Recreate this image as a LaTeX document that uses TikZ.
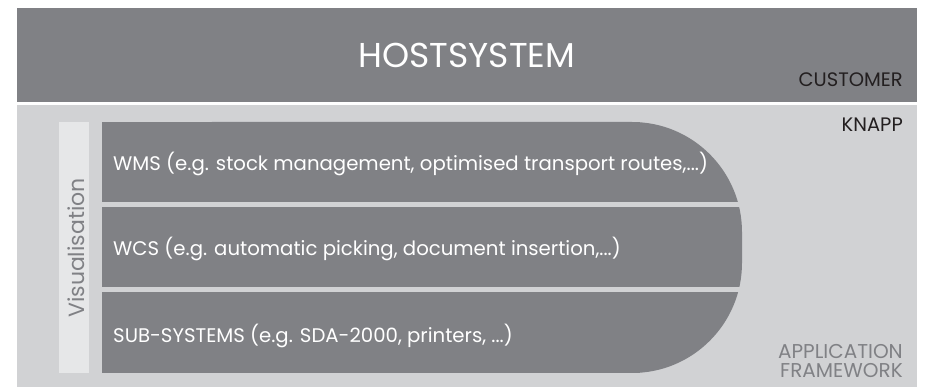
\documentclass[tikz,border=0pt]{standalone}
\usepackage{fontspec}
\setmainfont{Poppins}
\usetikzlibrary{positioning}

\definecolor{hostgray}{HTML}{808185}
\definecolor{panelgray}{HTML}{D1D2D4}
\definecolor{visgray}{HTML}{E6E7E8}
\definecolor{labelblack}{HTML}{231F20}

\tikzset{
  layertext/.style={text=white, inner sep=0pt, anchor=base west, font=\fontsize{19.7}{24}\selectfont},
  sidelabel/.style={inner sep=0pt, anchor=base east, font=\fontsize{19.5}{24}\selectfont},
}

\begin{document}
\begin{tikzpicture}[x=1pt, y=-1pt]
\useasboundingbox (0,0) rectangle (927,387);
\fill[white] (0,0) rectangle (927,387);
% customer side
\fill[hostgray] (17,8) rectangle (917,102);
\node[text=white, inner sep=0pt, anchor=base, font=\fontsize{34.5}{40}\selectfont] (host) at (467,67.5) {HOSTSYSTEM};
\node[sidelabel, text=labelblack] (customer) at (903,87) {CUSTOMER};
% knapp side
\fill[panelgray] (17,105) rectangle (917,387);
\node[sidelabel, text=labelblack] (knapp) at (903,132) {KNAPP};
\node[inner sep=0pt, anchor=south east, align=right, text=hostgray, font=\fontsize{20}{19}\selectfont] (framework) at (903,378) {APPLICATION\\FRAMEWORK};
% visualisation bar
\fill[visgray] (59,122) rectangle (89,373);
\node[rotate=90, text=hostgray, inner sep=0pt, font=\fontsize{22}{24}\selectfont] (vis) at (76,248) {Visualisation};
% layers
\fill[hostgray, rounded corners=110pt] (102,122) rectangle (742,373);
\fill[hostgray] (102,122) rectangle (640,373);
\draw[panelgray, line width=5pt] (102,204.5) -- (745,204.5);
\draw[panelgray, line width=5pt] (102,290) -- (745,290);
\node[layertext] (wms) at (113,171) {WMS (e.g. stock management, optimised transport routes,...)};
\node[layertext] (wcs) at (113,256) {WCS (e.g. automatic picking, document insertion,...)};
\node[layertext] (sub) at (113,343) {SUB-SYSTEMS (e.g. SDA-2000, printers, ...)};
\end{tikzpicture}
\end{document}
